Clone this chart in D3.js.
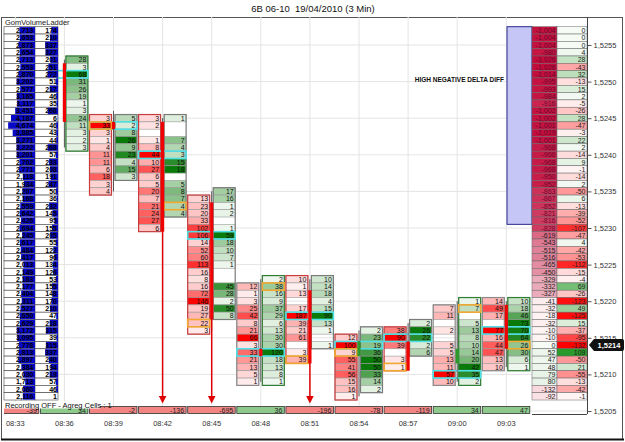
<!DOCTYPE html>
<html>
<head>
<meta charset="utf-8">
<script src="https://cdn.jsdelivr.net/npm/d3@7"></script>
<style>
body { margin: 0; background: #fff; }
svg { font-family: "Liberation Sans", Arial, sans-serif; }
</style>
</head>
<body>
<svg id="chart"></svg>
<script>
// ---- data ----
const times = ["08:33","08:36","08:39","08:42","08:45","08:48","08:51","08:54","08:57","09:00","09:03"];
const barDelta = [-39, 34, -2, -136, -695, 36, -196, -78, -119, 34, 47];
const topPrice = 1.5257;   // first row of the ladders, one row per 0.0001
const priceTicks = [1.5205,1.5210,1.5215,1.5220,1.5225,1.5230,1.5235,1.5240,1.5245,1.5250,1.5255];
const lastPrice = 1.5214;

// left volume ladder
const ladderTotal = [2713,2653,2873,2654,2713,2553,2870,3202,2577,3165,3117,3451,4187,4674,3885,3271,3222,3201,2702,2771,
  2118,1934,2207,2168,2559,2642,2426,2694,2245,2617,2484,2417,2013,2149,2183,2177,2404,2311,2527,2650,
  2629,3172,3095,2778,2813,2897,2384,2030,1713,2060,2116];
const ladderLast = [174,210,337,327,201,251,272,51,217,46,35,268,6,46,43,44,268,57,233,208,
  191,247,50,36,232,145,95,155,205,55,122,96,134,126,53,155,148,170,210,47,
  218,315,39,315,337,240,194,219,57,46,1];

// right column: cumulative delta and delta per price
const cumDelta = [-1004,-1004,-1004,-980,-1026,-1026,-1014,-995,-993,-984,-916,-1002,-1002,-1001,-1019,-1001,-968,-966,-968,-968,
  -950,-952,-863,-867,-852,-821,-816,-828,-619,-543,-515,-516,-465,-450,-329,-332,-327,-41,-32,-18,
  -32,-10,-10,0,52,47,48,79,80,-132,-92];
const rowDelta = [0,0,0,4,28,-43,32,-13,15,2,-5,-26,28,-47,-3,22,2,-14,9,-1,
  -14,2,-50,6,-13,-39,-52,-107,-47,4,-42,-53,-112,-15,-4,69,-26,-123,49,-125,
  15,-37,-95,-132,109,-50,21,-55,-13,-42,-1];
const hiZone = [1.52305, 1.52575];

// footprint per bar (row index from topPrice, 0 = empty cell)
const bidStart = [null, null, 12, 12, 23, 35, 34, 42, 41, 38, 37];
const bidVals = [
  [], [],
  [3,33,3,1,4,11,11,6,18,3,4],
  [3,2,0,1,8,44,10,27,6,5,20,7,21,24,27,6],
  [13,23,20,33,102,106,14,52,60,113,16,8,16,72,146,19,27,22,3],
  [12,1,3,25,42,8,21,66,3,33,21,13,5,1],
  [10,1,13,0,17,187,39,21,61,0,3,39],
  [12,100,9,55,41,56,15,16,1],
  [38,90,39,0,3,1],
  [7,11,0,2,0,5,5,13,11,57,10],
  [14,49,17,0,77,16,44,47,13,10]
];
const askStart = [null, 4, 12, 12, 22, 34, 34, 41, 40, 37, 37];
const askVals = [
  [],
  [28,3,68,31,26,19,1,3,24,11,3,2,3],
  [5,2,8,26,9,23,4,15,3],
  [1,0,0,7,4,3,15,18,0,5,8,7,4,4],
  [17,16,1,2,0,1,59,18,10,7,1,0,0,45,28,2,50,8],
  [2,38,16,9,37,29,6,13,30,30,120,18,13,8,1],
  [10,14,18,4,15,90,13,1,0,1],
  [2,23,19,36,50,50,33,14,2],
  [2,26,22,2,6],
  [1,7,0,5,13,8,10,14,20,42,35,2],
  [10,18,46,73,70,64,26,30,6,1]
];
const pocRow = [null, 6, 13, 17, 28, 44, 39, 43, 42, 47, 41];
const openRow = [null, null, 13, 24, 40, 35, 45, 44, 46, 38, 43];
const openSide = [null, null, "bid", "ask", "bid", "ask", "bid", "bid", "bid", "ask", "ask"];

// candles (row indexes)
const candleHigh  = [null, 4, 11, 12, 22, 34, 34, 41, 40, 37, 37];
const candleLow   = [null, 16, 22, 27, 41, 48, 45, 50, 46, 48, 46];
const candleOpen  = [null, 5, 13, 13, 24, 44, 36, 44, 43, 45, 38];
const candleClose = [null, 12, 13, 27, 39, 44, 45, 43, 46, 44, 43];
const arrowBars = [3, 4, 6];

// ---- setup ----
const W = 625, H = 442;
const svg = d3.select("#chart").attr("width", W).attr("height", H);
const plot = {left: 4, right: 587, top: 17, bottom: 414};

const y = d3.scaleLinear().domain([1.5205, 1.5255]).range([411, 45]);
const x = d3.scaleLinear().domain([0, times.length - 1]).range([15.3, 506.3]);
const rowH = y(1.5205) - y(1.5206);
const rowPrice = k => +(topPrice - k * 0.0001).toFixed(4);
const rowY = k => y(rowPrice(k));
const fs = "7px";

const loc = d3.formatLocale({decimal: ".", thousands: ",", grouping: [3], currency: ["", ""], minus: "-"});
const fmt = loc.format(",d");

// frame + title
svg.append("rect").attr("x", 1.5).attr("y", 17.5).attr("width", 621).attr("height", 422)
  .attr("fill", "#fff").attr("stroke", "#555");
svg.append("line").attr("x1", 1).attr("x2", 624).attr("y1", 439.5).attr("y2", 439.5)
  .attr("stroke", "#111").attr("stroke-width", 2);
svg.append("text").attr("x", 313).attr("y", 12).attr("text-anchor", "middle")
  .style("font-size", "9.5px").attr("fill", "#111").text("6B 06-10\u00a0 19/04/2010 (3 Min)");

// grid
const grid = svg.append("g");
grid.selectAll(".vg").data(times).join("line")
  .attr("x1", (d, i) => x(i)).attr("x2", (d, i) => x(i))
  .attr("y1", plot.top).attr("y2", plot.bottom)
  .attr("stroke", "#e4e4e4");
grid.selectAll(".hg").data(priceTicks).join("line")
  .attr("x1", plot.left).attr("x2", plot.right)
  .attr("y1", d => y(d)).attr("y2", d => y(d))
  .attr("stroke", "#e4e4e4");

// clip for footprint area
svg.append("clipPath").attr("id", "clipfp").append("rect")
  .attr("x", plot.left).attr("y", plot.top).attr("width", 528).attr("height", plot.bottom - plot.top);
const fp = svg.append("g").attr("clip-path", "url(#clipfp)");

// ---- footprint cells ----
const bidColor = d3.interpolateRgb("#fff2f2", "#ff0000");
const askColor = d3.interpolateRgb("#f3faf3", "#0a7a0a");
const cellW = 22;
const cellX = (i, side) => side === "bid" ? x(i) - 24 : x(i) + 1.5;

const cells = [];
const boxes = [];
times.forEach((t, i) => {
  [["bid", bidStart[i], bidVals[i]], ["ask", askStart[i], askVals[i]]].forEach(([side, s, vals]) => {
    if (s == null || !vals.length) return;
    const mx = d3.max(vals);
    vals.forEach((v, j) => { if (v > 0) cells.push({i, side, k: s + j, v, r: v / mx}); });
    boxes.push({i, side, k0: s, k1: s + vals.length - 1});
  });
});

fp.selectAll("rect.cell").data(cells).join("rect").attr("class", "cell")
  .attr("x", d => cellX(d.i, d.side)).attr("width", cellW)
  .attr("y", d => rowY(d.k) - rowH / 2).attr("height", rowH)
  .attr("fill", d => d.side === "bid" ? bidColor(Math.pow(d.r, 0.85)) : askColor(Math.pow(d.r, 0.85)))
  .attr("stroke", "#9a9a9a").attr("stroke-width", 0.6);

fp.selectAll("text.cell").data(cells).join("text").attr("class", "cell")
  .attr("x", d => cellX(d.i, d.side) + cellW - 1.5)
  .attr("y", d => rowY(d.k) + 2.6)
  .attr("text-anchor", "end").style("font-size", fs).attr("fill", "#111")
  .text(d => d.v);

fp.selectAll("rect.box").data(boxes).join("rect").attr("class", "box")
  .attr("x", d => cellX(d.i, d.side)).attr("width", cellW)
  .attr("y", d => rowY(d.k0) - rowH / 2).attr("height", d => (d.k1 - d.k0 + 1) * rowH)
  .attr("fill", "none").attr("stroke-width", 1.2)
  .attr("stroke", d => {
    const up = barDelta[d.i] > 0;
    if (d.side === "bid") return up ? "#8a8a8a" : "#c83c3c";
    return up ? "#2e7d32" : "#7a7a7a";
  });

// poc rows (cyan) and open cells (orange)
const pocs = times.map((t, i) => ({i, k: pocRow[i]})).filter(d => d.k != null);
fp.selectAll("rect.poc").data(pocs).join("rect").attr("class", "poc")
  .attr("x", d => x(d.i) - 24).attr("width", 47.5)
  .attr("y", d => rowY(d.k) - rowH / 2).attr("height", rowH)
  .attr("fill", "none").attr("stroke", "#4fe0e6").attr("stroke-width", 1.6);
const opens = times.map((t, i) => ({i, k: openRow[i], side: openSide[i]})).filter(d => d.k != null);
fp.selectAll("rect.open").data(opens).join("rect").attr("class", "open")
  .attr("x", d => cellX(d.i, d.side)).attr("width", cellW)
  .attr("y", d => rowY(d.k) - rowH / 2).attr("height", rowH)
  .attr("fill", "none").attr("stroke", "#f0a830").attr("stroke-width", 1.6);

// candles
const candles = times.map((t, i) => ({i, h: candleHigh[i], l: candleLow[i], o: candleOpen[i], c: candleClose[i]}))
  .filter(d => d.h != null);
fp.selectAll("line.wick").data(candles).join("line").attr("class", "wick")
  .attr("x1", d => x(d.i)).attr("x2", d => x(d.i))
  .attr("y1", d => rowY(d.h)).attr("y2", d => rowY(d.l))
  .attr("stroke", "#555").attr("stroke-width", 1);
fp.selectAll("rect.body").data(candles).join("rect").attr("class", "body")
  .attr("x", d => x(d.i) - 1.6).attr("width", 3.2)
  .attr("y", d => rowY(Math.min(d.o, d.c)) - rowH / 2)
  .attr("height", d => (Math.abs(d.c - d.o) + 1) * rowH)
  .attr("fill", d => d.c >= d.o ? "#f00000" : "#2a9a2a");

// arrows
const arrows = arrowBars.map(i => ({i, k: candleClose[i]}));
fp.selectAll("line.arrow").data(arrows).join("line").attr("class", "arrow")
  .attr("x1", d => x(d.i)).attr("x2", d => x(d.i))
  .attr("y1", d => rowY(d.k)).attr("y2", 397)
  .attr("stroke", "#e00000").attr("stroke-width", 1.5);
fp.selectAll("path.arrow").data(arrows).join("path").attr("class", "arrow")
  .attr("d", d => `M${x(d.i) - 3.8},396 L${x(d.i) + 3.8},396 L${x(d.i)},403.5 Z`)
  .attr("fill", "#e00000");

// bar delta boxes
fp.selectAll("rect.delta").data(barDelta).join("rect").attr("class", "delta")
  .attr("x", (d, i) => x(i) - 24).attr("width", 47.5)
  .attr("y", 406.5).attr("height", 7)
  .attr("fill", d => d < 0 ? "#f28482" : "#8cc98a")
  .attr("stroke", "#333").attr("stroke-width", 0.8);
fp.selectAll("text.delta").data(barDelta).join("text").attr("class", "delta")
  .attr("x", (d, i) => x(i) + 21.5).attr("y", 412.6)
  .attr("text-anchor", "end").style("font-size", fs).attr("fill", "#222")
  .text(d => d);

// ---- left volume ladder ----
const ladder = svg.append("g");
const rowsL = ladderTotal.map((v, k) => ({k, v, last: ladderLast[k]}));
const volW = d3.scaleLinear().domain([0, 4700]).range([0, 27]);
const lastW = d3.scaleLinear().domain([0, 340]).range([0, 13]);
ladder.selectAll("rect.c1").data(rowsL).join("rect").attr("class", "c1")
  .attr("x", 4).attr("width", 31).attr("y", d => rowY(d.k) - rowH / 2).attr("height", rowH)
  .attr("fill", "#fff").attr("stroke", "#444").attr("stroke-width", 0.6);
ladder.selectAll("rect.c2").data(rowsL).join("rect").attr("class", "c2")
  .attr("x", 35).attr("width", 23).attr("y", d => rowY(d.k) - rowH / 2).attr("height", rowH)
  .attr("fill", "#fff").attr("stroke", "#444").attr("stroke-width", 0.6);
ladder.selectAll("rect.b1").data(rowsL).join("rect").attr("class", "b1")
  .attr("x", d => 35 - volW(d.v)).attr("width", d => volW(d.v))
  .attr("y", d => rowY(d.k) - rowH / 2 + 0.4).attr("height", rowH - 0.8)
  .attr("fill", "#0808c8");
ladder.selectAll("rect.b2").data(rowsL).join("rect").attr("class", "b2")
  .attr("x", d => 58 - lastW(d.last)).attr("width", d => lastW(d.last))
  .attr("y", d => rowY(d.k) - rowH / 2 + 0.4).attr("height", rowH - 0.8)
  .attr("fill", "#0808c8");
ladder.selectAll("text.t1").data(rowsL).join("text").attr("class", "t1")
  .attr("x", 33.5).attr("y", d => rowY(d.k) + 2.6).attr("text-anchor", "end")
  .style("font-size", fs).style("font-weight", "bold").attr("fill", "#000")
  .text(d => fmt(d.v));
ladder.selectAll("text.t2").data(rowsL).join("text").attr("class", "t2")
  .attr("x", 57).attr("y", d => rowY(d.k) + 2.6).attr("text-anchor", "end")
  .style("font-size", fs).style("font-weight", "bold").attr("fill", "#000")
  .text(d => d.last);
svg.append("text").attr("x", 5).attr("y", 25).style("font-size", "7.5px").attr("fill", "#222")
  .text("GomVolumeLadder");

// ---- right cumulative delta columns ----
const right = svg.append("g");
right.append("rect")
  .attr("x", 507).attr("width", 25)
  .attr("y", y(hiZone[1])).attr("height", y(hiZone[0]) - y(hiZone[1]))
  .attr("fill", "#c6c6f6").attr("stroke", "#2a2a8a");
svg.append("text").attr("x", 504).attr("y", 82).attr("text-anchor", "end")
  .style("font-size", "6.5px").style("font-weight", "bold").attr("fill", "#111")
  .text("HIGH NEGATIVE DELTA DIFF");

const rowsR = cumDelta.map((v, k) => ({k, v, d: rowDelta[k]}));
const cumNeg = d3.scaleLinear().domain([0, -1026]).range(["#fff6f6", "#c20c3c"]);
const cumPos = d3.scaleLinear().domain([0, 1026]).range(["#f6fbf6", "#3a9a3a"]);
const dNeg = d3.scaleLinear().domain([0, -132]).range(["#fff6f6", "#ff0000"]);
const dPos = d3.scaleLinear().domain([0, 109]).range(["#f6fbf6", "#2a9a2a"]);
right.selectAll("rect.r1").data(rowsR).join("rect").attr("class", "r1")
  .attr("x", 532).attr("width", 25).attr("y", d => rowY(d.k) - rowH / 2).attr("height", rowH)
  .attr("fill", d => d.v < 0 ? cumNeg(d.v) : cumPos(d.v)).attr("stroke", "#666").attr("stroke-width", 0.5);
right.selectAll("rect.r2").data(rowsR).join("rect").attr("class", "r2")
  .attr("x", 557).attr("width", 30).attr("y", d => rowY(d.k) - rowH / 2).attr("height", rowH)
  .attr("fill", d => d.d < 0 ? dNeg(d.d) : dPos(d.d)).attr("stroke", "#666").attr("stroke-width", 0.5);
right.selectAll("text.r1").data(rowsR).join("text").attr("class", "r1")
  .attr("x", 555.5).attr("y", d => rowY(d.k) + 2.6).attr("text-anchor", "end")
  .style("font-size", fs).attr("fill", d => d.v < -700 ? "#6a0a2a" : "#222")
  .text(d => fmt(d.v));
right.selectAll("text.r2").data(rowsR).join("text").attr("class", "r2")
  .attr("x", 585.5).attr("y", d => rowY(d.k) + 2.6).attr("text-anchor", "end")
  .style("font-size", fs).attr("fill", "#222")
  .text(d => fmt(d.d));

// ---- axes ----
svg.append("line").attr("x1", plot.right + 0.5).attr("x2", plot.right + 0.5)
  .attr("y1", plot.top).attr("y2", plot.bottom).attr("stroke", "#444");
svg.append("line").attr("x1", 532).attr("x2", plot.right)
  .attr("y1", plot.bottom + 0.5).attr("y2", plot.bottom + 0.5).attr("stroke", "#444");

const yAxis = d3.axisRight(y).tickValues(priceTicks).tickSize(4).tickPadding(2)
  .tickFormat(d => d.toFixed(4).replace(".", ","));
const yg = svg.append("g").attr("transform", `translate(${plot.right + 0.5},0)`).call(yAxis);
yg.select(".domain").remove();
yg.selectAll("line").attr("stroke", "#555");
yg.selectAll("text").style("font-size", "7.5px").style("font-family", "Liberation Sans, Arial, sans-serif").attr("fill", "#333");

// last price tag
const ly = y(lastPrice);
svg.append("path")
  .attr("d", `M589,${ly} L594,${ly - 6} L622,${ly - 6} Q624,${ly - 6} 624,${ly - 4} L624,${ly + 4} Q624,${ly + 6} 622,${ly + 6} L594,${ly + 6} Z`)
  .attr("fill", "#111");
svg.append("text").attr("x", 609).attr("y", ly + 2.8).attr("text-anchor", "middle")
  .style("font-size", "7.5px").style("font-weight", "bold").attr("fill", "#fff")
  .text(lastPrice.toFixed(4).replace(".", ","));

// time labels
svg.selectAll("text.time").data(times).join("text").attr("class", "time")
  .attr("x", (d, i) => x(i)).attr("y", 426).attr("text-anchor", "middle")
  .style("font-size", "7.5px").attr("fill", "#333").text(d => d);

// recording note
svg.append("rect").attr("x", 4).attr("y", 401.5).attr("width", 96).attr("height", 7).attr("fill", "#fff");
svg.append("text").attr("x", 5).attr("y", 408).style("font-size", "7.5px").attr("fill", "#111")
  .text("Recording OFF - Agreg Cells : 1");
</script>
</body>
</html>
